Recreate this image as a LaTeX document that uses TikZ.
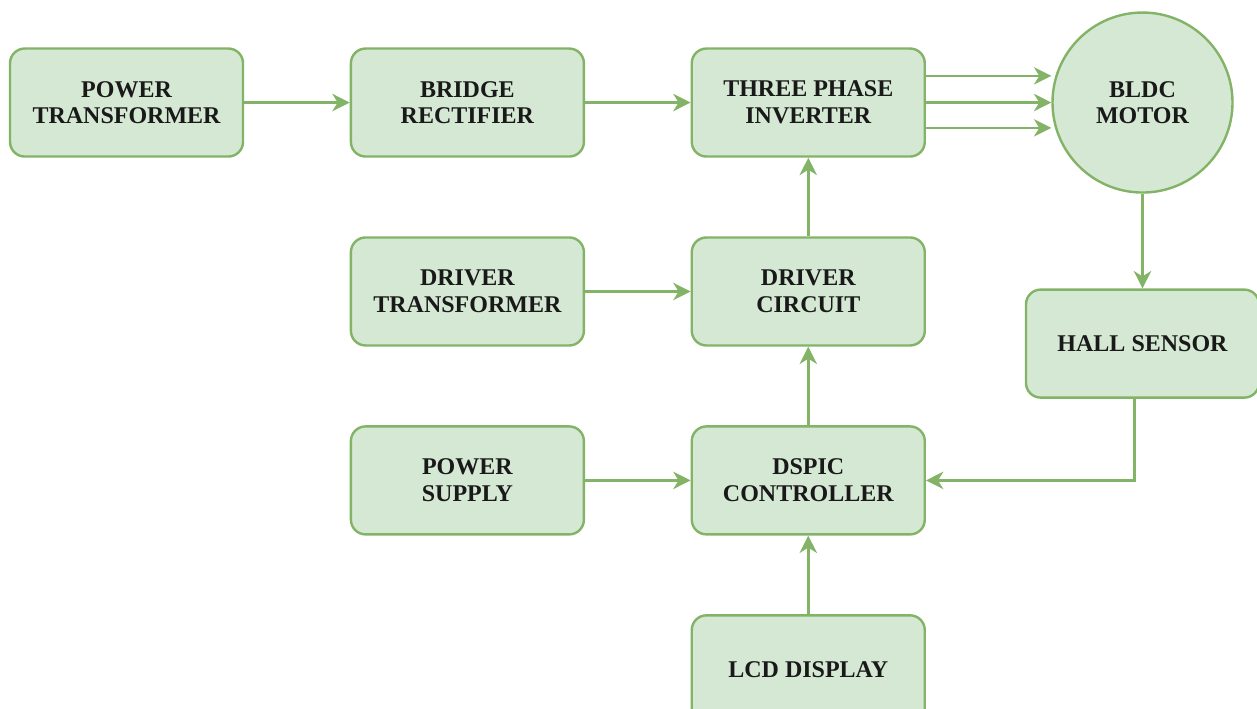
\documentclass[tikz,border=0pt]{standalone}
\usepackage{fontspec}
\setmainfont{Liberation Serif}
\usetikzlibrary{shapes,arrows.meta,positioning}
\definecolor{boxfill}{HTML}{D5E8D4}
\definecolor{boxline}{HTML}{82B366}

\begin{document}
\begin{tikzpicture}[
    node distance=58.9pt and 79.1pt,
    block/.style={draw=boxline, fill=boxfill, line width=1.8pt, rounded corners=11pt, minimum width=174.75pt, minimum height=81pt, align=center, text=black!90, font=\fontsize{18}{20}\selectfont\bfseries},
    motor/.style={circle, draw=boxline, fill=boxfill, line width=1.8pt, minimum size=135pt, align=center, text=black!90, font=\fontsize{18}{20}\selectfont\bfseries},
    arrow/.style={-{Stealth[length=13pt,width=13pt,inset=4pt]}, draw=boxline, line width=2pt}
]
\useasboundingbox (0,0) rectangle (942.75pt,-531pt);
\node[block] (ptr) at (94.9pt,-76.9pt) {POWER\\TRANSFORMER};
\node[block, right=of ptr] (brg) {BRIDGE\\RECTIFIER};
\node[block, right=of brg] (inv) {THREE PHASE\\INVERTER};
\node[motor, right=94pt of inv] (mot) {BLDC\\MOTOR};
\node[block, below=of brg] (drt) {DRIVER\\TRANSFORMER};
\node[block, below=of inv] (drc) {DRIVER\\CIRCUIT};
\node[block, below=71pt of mot] (hal) {HALL SENSOR};
\node[block, below=of drt] (psu) {POWER\\SUPPLY};
\node[block, below=of drc] (dsp) {DSPIC\\CONTROLLER};
\node[block, below=of dsp] (lcd) {LCD DISPLAY};
\draw[arrow] (ptr) -- (brg);
\draw[arrow] (brg) -- (inv);
\foreach \dy in {20pt,0pt,-19pt}
    \draw[arrow] ([yshift=\dy]inv.east) -- ([yshift=\dy]inv.east -| mot.west);
\draw[arrow] (drt) -- (drc);
\draw[arrow] (drc) -- (inv);
\draw[arrow] (dsp) -- (drc);
\draw[arrow] (psu) -- (dsp);
\draw[arrow] (lcd) -- (dsp);
\draw[arrow] (mot) -- (hal);
\draw[arrow] ([xshift=-6pt]hal.south) |- (dsp);
\end{tikzpicture}
\end{document}
